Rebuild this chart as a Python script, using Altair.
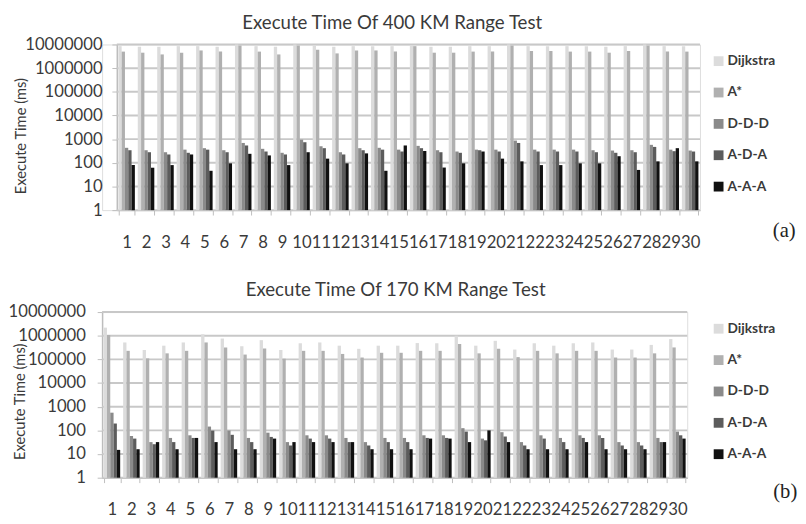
import altair as alt
import pandas as pd

groups = [str(i) for i in range(1, 31)]
algos = ["Dijkstra", "A*", "D-D-D", "A-D-A", "A-A-A"]
colors = ["#dcdcdc", "#b0b0b0", "#8a8a8a", "#5c5c5c", "#111111"]
y_ticks = [1, 10, 100, 1000, 10000, 100000, 1000000, 10000000]

# (a) 400 KM range test
dij_a = [8.5e6, 8.0e6, 8.0e6, 8.5e6, 8.5e6, 8.0e6, 1.0e7, 8.5e6, 8.0e6, 1.0e7,
         9.0e6, 8.0e6, 8.5e6, 8.5e6, 8.5e6, 9.5e6, 8.0e6, 8.0e6, 8.5e6, 8.5e6,
         1.0e7, 8.5e6, 8.5e6, 8.5e6, 8.5e6, 8.0e6, 8.5e6, 1.0e7, 8.5e6, 8.5e6]
astar_a = [5.0e6, 4.5e6, 3.8e6, 4.5e6, 5.6e6, 5.0e6, 9.0e6, 5.0e6, 3.8e6, 9.0e6,
           6.0e6, 4.2e6, 5.6e6, 5.6e6, 5.0e6, 8.5e6, 4.5e6, 4.5e6, 5.0e6, 5.0e6,
           9.0e6, 5.3e6, 5.3e6, 5.0e6, 5.0e6, 4.5e6, 5.3e6, 9.0e6, 5.0e6, 5.0e6]
ddd_a = [430, 340, 280, 360, 415, 340, 690, 390, 265, 950,
         500, 280, 415, 430, 360, 520, 340, 300, 360, 360,
         870, 360, 360, 360, 340, 330, 340, 575, 360, 330]
ada_a = [340, 280, 225, 265, 360, 280, 540, 300, 225, 740,
         415, 225, 340, 360, 300, 415, 280, 265, 340, 300,
         690, 300, 300, 300, 280, 265, 280, 470, 310, 300]
aaa_a = [80, 62, 80, 225, 46, 95, 240, 205, 80, 280,
         150, 95, 250, 46, 540, 315, 63, 95, 300, 150,
         115, 80, 80, 95, 95, 190, 50, 115, 415, 115]

# (b) 170 KM range test
dij_b = [2.2e6, 5.2e5, 2.5e5, 3.8e5, 5.2e5, 1.15e6, 7.6e5, 3.6e5, 6.5e5, 2.5e5,
         4.8e5, 5.2e5, 3.8e5, 2.8e5, 3.8e5, 3.8e5, 4.9e5, 4.8e5, 1.0e6, 3.8e5,
         6.1e5, 2.6e5, 4.8e5, 3.8e5, 4.8e5, 5.2e5, 2.6e5, 2.6e5, 4.1e5, 7.2e5]
astar_b = [1.07e6, 2.3e5, 1.1e5, 1.8e5, 2.3e5, 5.2e5, 3.2e5, 1.6e5, 2.9e5, 1.07e5,
           2.3e5, 2.3e5, 1.7e5, 1.2e5, 1.9e5, 1.9e5, 2.3e5, 2.3e5, 4.5e5, 1.8e5,
           2.8e5, 1.25e5, 2.3e5, 1.8e5, 2.3e5, 2.3e5, 1.2e5, 1.2e5, 1.8e5, 3.2e5]
ddd_b = [560, 58, 32, 48, 62, 145, 98, 48, 80, 32,
         62, 62, 48, 32, 48, 48, 62, 62, 124, 45,
         84, 32, 62, 48, 62, 62, 32, 32, 48, 89]
ada_b = [195, 45, 26, 32, 48, 98, 65, 32, 53, 23,
         45, 45, 32, 23, 32, 32, 48, 48, 89, 38,
         55, 23, 45, 32, 48, 48, 23, 23, 32, 62]
aaa_b = [15, 16, 32, 16, 48, 32, 16, 16, 45, 32,
         32, 32, 32, 16, 16, 16, 45, 45, 32, 100,
         32, 16, 16, 16, 32, 16, 16, 16, 32, 45]

titles = ["Execute Time Of 400 KM Range Test", "Execute Time Of 170 KM Range Test"]
tags = ["(a)", "(b)"]

FONT = "Lato"
TXT = "#3a3a3a"
GRID = "#c8c8c8"
AXC = "#bdbdbd"


def make_df(series):
    rows = []
    for algo, vals in zip(algos, series):
        for g, v in zip(groups, vals):
            rows.append({"group": g, "algo": algo, "time": v})
    return pd.DataFrame(rows)


def panel(df, title, tag, w, x0, title_x, title_y, title_dx, ylab_pad,
          tag_x, tag_y):
    h = 169
    ysc = alt.Scale(type="log", domain=[1, 1e7])
    grid = alt.Chart(pd.DataFrame({"v": y_ticks})).mark_rule(
        color=GRID, strokeWidth=2
    ).encode(y=alt.Y("v:Q", scale=ysc), x=alt.value(x0), x2=alt.value(w))
    bars = alt.Chart(df).mark_bar().encode(
        x=alt.X("group:N", sort=groups,
                scale=alt.Scale(paddingInner=0.15, paddingOuter=0.08,
                                range=[x0, w]),
                axis=alt.Axis(title=None, labelAngle=0, tickBand="extent",
                              grid=False, domainColor=AXC, domainWidth=1.5,
                              tickColor=AXC, tickSize=5, labelPadding=20,
                              labelFont=FONT, labelFontSize=17, labelColor=TXT)),
        xOffset=alt.XOffset("algo:N", sort=algos),
        y=alt.Y("time:Q", scale=ysc,
                axis=alt.Axis(values=y_ticks, format="d", offset=-x0,
                              title="Execute Time (ms)", titleFont=FONT,
                              titleFontSize=15, titleFontWeight="normal",
                              titleColor=TXT, titleX=title_x, titleY=title_y,
                              titleAngle=270, titleBaseline="middle",
                              labelFont=FONT, labelFontSize=17, labelColor=TXT,
                              labelPadding=ylab_pad, grid=False,
                              domainColor=AXC, domainWidth=1.5,
                              tickColor=AXC, tickSize=5)),
        y2=alt.datum(1),
        color=alt.Color("algo:N", sort=algos,
                        scale=alt.Scale(domain=algos, range=colors),
                        legend=alt.Legend(title=None, orient="none",
                                          legendX=622, legendY=10,
                                          symbolType="square", symbolSize=100,
                                          symbolStrokeWidth=0, labelOffset=2,
                                          labelFont=FONT, labelFontSize=14,
                                          labelFontWeight="bold", labelColor=TXT,
                                          rowPadding=18)),
    )
    label = alt.Chart(pd.DataFrame({"t": [tag]})).mark_text(
        font="Liberation Serif", fontSize=21, color="#222222"
    ).encode(text="t:N", x=alt.value(tag_x), y=alt.value(tag_y))
    return alt.layer(grid, bars, label).properties(
        width=w, height=h,
        title=alt.TitleParams(title, font=FONT, fontSize=19, fontWeight="normal",
                              color=TXT, anchor="middle", dx=title_dx, offset=3),
    )


top = panel(make_df([dij_a, astar_a, ddd_a, ada_a, aaa_a]), titles[0], tags[0],
            610, 15, -98, 93, -9, 10, 696, 190)
bottom = panel(make_df([dij_b, astar_b, ddd_b, ada_b, aaa_b]), titles[1], tags[1],
               597, 0, -84, 91, 1, 12, 697, 184)

chart = alt.vconcat(top, bottom, spacing=30).resolve_legend(
    color="independent"
).properties(
    padding={"left": -1, "top": 0, "right": 0, "bottom": 0}
).configure_view(stroke=None).configure(background="white")

chart.save("out.html", embed_options={"renderer": "svg", "actions": False})
